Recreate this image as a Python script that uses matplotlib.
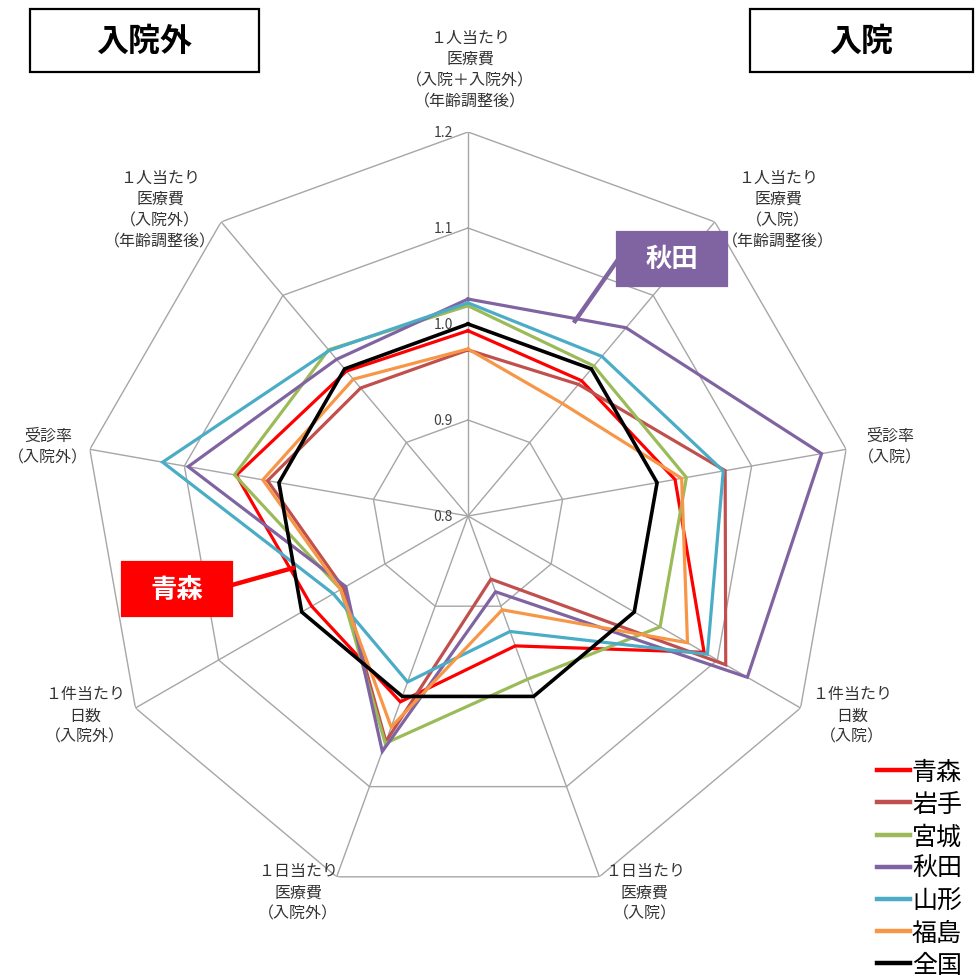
import numpy as np
import matplotlib
matplotlib.use("Agg")
import matplotlib.pyplot as plt
from matplotlib.patches import Rectangle
from matplotlib.lines import Line2D

plt.rcParams['font.family'] = ['Noto Sans CJK JP', 'DejaVu Sans']

# data
axis_labels = [
    "１人当たり\n医療費\n（入院＋入院外）\n（年齢調整後）",
    "１人当たり\n医療費\n（入院）\n（年齢調整後）",
    "受診率\n（入院）",
    "１件当たり\n日数\n（入院）",
    "１日当たり\n医療費\n（入院）",
    "１日当たり\n医療費\n（入院外）",
    "１件当たり\n日数\n（入院外）",
    "受診率\n（入院外）",
    "１人当たり\n医療費\n（入院外）\n（年齢調整後）",
]
names = ['青森', '岩手', '宮城', '秋田', '山形', '福島', '全国']
aomori = [0.993, 0.984, 1.019, 1.084, 0.944, 1.006, 0.988, 1.045, 0.997]
iwate = [0.973, 0.979, 1.072, 1.110, 0.870, 1.050, 0.950, 1.012, 0.974]
miyagi = [1.019, 1.004, 1.031, 1.031, 0.981, 1.052, 0.953, 1.047, 1.026]
akita = [1.026, 1.056, 1.174, 1.136, 0.884, 1.061, 0.947, 1.096, 1.013]
yamagata = [1.022, 1.017, 1.070, 1.088, 0.928, 0.984, 0.962, 1.123, 1.025]
fukushima = [0.974, 0.953, 1.026, 1.064, 0.904, 1.034, 0.953, 1.017, 0.986]
zenkoku = [1.0, 1.0, 1.0, 1.0, 1.0, 1.0, 1.0, 1.0, 1.0]
series = [aomori, iwate, miyagi, akita, yamagata, fukushima, zenkoku]
ticks = [0.8, 0.9, 1.0, 1.1, 1.2]

colors = ['#FF0000', '#C0504D', '#9BBB59', '#8064A2', '#4BACC6', '#F79646', '#000000']

W, H = 975, 979
fig = plt.figure(figsize=(W / 100, H / 100), dpi=100)


def fx(px):
    return px / W


def fy(py):
    return 1 - py / H


cx, cy, R = 468, 517, 384
ax = fig.add_axes([fx(cx - R), fy(cy + R), 2 * R / W, 2 * R / H], projection='polar')
ax.set_theta_zero_location('N')
ax.set_theta_direction(-1)
ax.set_ylim(ticks[0], ticks[-1])
ax.grid(False)
ax.set_xticks([])
ax.set_yticks([])
ax.spines['polar'].set_visible(False)
ax.patch.set_alpha(0)

n = len(axis_labels)
theta = np.arange(n) * 2 * np.pi / n
closed = np.append(theta, theta[0])

# grid rings + spokes
for r in ticks[1:]:
    ax.plot(closed, [r] * (n + 1), color='#A6A6A6', lw=1.0, zorder=1)
for t in theta:
    ax.plot([t, t], [ticks[0], ticks[-1]], color='#A6A6A6', lw=1.0, zorder=1)

for vals, c, name in zip(series, colors, names):
    lw = 2.6 if name == '全国' else 2.3
    ax.plot(closed, vals + [vals[0]], color=c, lw=lw, zorder=3, solid_joinstyle='miter')

for r in ticks:
    ax.annotate(f'{r:.1f}', xy=(0, r), xytext=(-11, 0), textcoords='offset points',
                ha='right', va='center', fontsize=10, color='#404040')

# axis labels (pixel centres)
label_pos = [(470, 70), (778, 210), (890, 447), (852, 716), (645, 893),
             (298, 893), (85, 716), (48, 447), (160, 210)]
for txt, (px, py) in zip(axis_labels, label_pos):
    fig.text(fx(px), fy(py), txt, ha='center', va='center', fontsize=11.5,
             color='#333333', linespacing=1.32, multialignment='center')

# legend
handles = [Line2D([], [], color=c, lw=3.2) for c in colors]
fig.legend(handles, names, loc='upper left', bbox_to_anchor=(fx(877), fy(760)),
           frameon=False, fontsize=18, handlelength=1.3, handletextpad=0.1,
           labelspacing=0.245, borderpad=0, borderaxespad=0)


def box(x0, y0, x1, y1, text, fc, ec, tc, size):
    fig.patches.append(Rectangle((fx(x0), fy(y1)), fx(x1) - fx(x0), fy(y0) - fy(y1),
                                 transform=fig.transFigure, facecolor=fc,
                                 edgecolor=ec, lw=1.6))
    fig.text(fx((x0 + x1) / 2), fy((y0 + y1) / 2), text, ha='center', va='center',
             fontsize=size, fontweight='bold', color=tc)


box(30, 10, 259, 73, '入院外', 'white', 'black', 'black', 23)
box(750, 10, 973, 73, '入院', 'white', 'black', 'black', 23)

# callouts
fig.lines.append(Line2D([fx(617), fx(575)], [fy(262), fy(322)], transform=fig.transFigure,
                        color='#8064A2', lw=3.2))
box(617, 233, 727, 287, '秋田', '#8064A2', '#8064A2', 'white', 19)
fig.lines.append(Line2D([fx(232), fx(293)], [fy(586), fy(569)], transform=fig.transFigure,
                        color='#FF0000', lw=3.2))
box(122, 563, 232, 617, '青森', '#FF0000', '#FF0000', 'white', 19)

fig.savefig('out.png', dpi=100)
